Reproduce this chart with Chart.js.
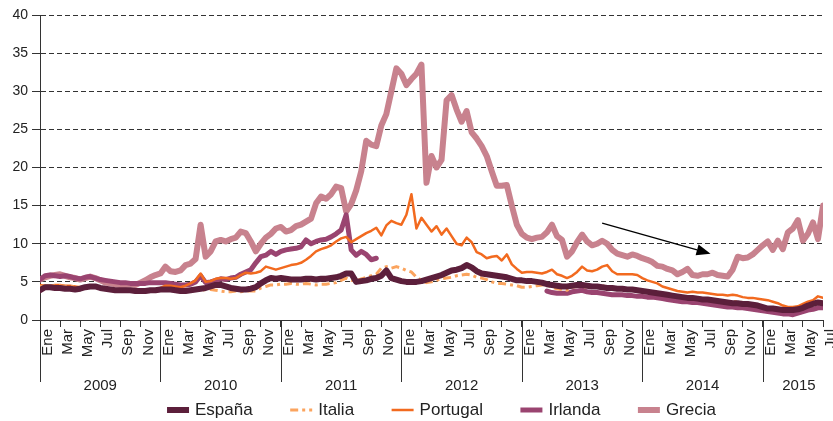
<!DOCTYPE html>
<html>
<head>
<meta charset="utf-8">
<script src="https://cdn.jsdelivr.net/npm/chart.js@4/dist/chart.umd.min.js"></script>
<style>
  html, body { margin: 0; padding: 0; background: #ffffff; }
  #wrap { width: 833px; height: 421px; position: relative; }
</style>
</head>
<body>
<div id="wrap"><canvas id="c" width="833" height="421"></canvas></div>
<script>
// ---- Data (x = months since January 2009, half-month steps) ----
const monthNames = ['Ene', 'Mar', 'May', 'Jul', 'Sep', 'Nov'];
const years = ['2009', '2010', '2011', '2012', '2013', '2014', '2015'];
const yearStarts = [0, 12, 24, 36, 48, 60, 72];
const yearLabelPos = [6, 18, 30, 42, 54, 66, 75.6];
const xMonths = Array.from({ length: 157 }, (_, i) => i / 2);

const espana = [
  3.9, 4.3, 4.3, 4.2, 4.2, 4.1, 4.1, 4.0, 4.1, 4.3, 4.4, 4.4, 4.2, 4.1, 4.0, 3.9, 3.9, 3.9, 3.9, 3.8, 3.8, 3.8, 3.9, 3.9,
  4.0, 4.0, 4.0, 3.9, 3.8, 3.8, 3.9, 4.0, 4.1, 4.2, 4.4, 4.6, 4.6, 4.4, 4.2, 4.1, 4.0, 4.0, 4.1, 4.3, 4.8, 5.2, 5.5, 5.4,
  5.5, 5.4, 5.3, 5.3, 5.3, 5.4, 5.4, 5.3, 5.4, 5.4, 5.5, 5.6, 5.8, 6.1, 6.1, 5.0, 5.1, 5.2, 5.4, 5.5, 5.8, 6.5, 5.5, 5.3,
  5.1, 5.0, 5.0, 5.0, 5.1, 5.3, 5.5, 5.7, 5.9, 6.2, 6.5, 6.6, 6.8, 7.2, 6.9, 6.4, 6.1, 6.0, 5.9, 5.8, 5.7, 5.6, 5.4, 5.2,
  5.2, 5.1, 5.1, 5.0, 4.9, 4.7, 4.6, 4.5, 4.4, 4.4, 4.5, 4.6, 4.6, 4.5, 4.4, 4.4, 4.3, 4.2, 4.2, 4.1, 4.1, 4.0, 4.0, 3.9,
  3.8, 3.7, 3.6, 3.5, 3.4, 3.3, 3.2, 3.1, 3.0, 2.9, 2.9, 2.8, 2.7, 2.7, 2.6, 2.5, 2.4, 2.3, 2.2, 2.2, 2.1, 2.1, 2.0, 1.9,
  1.7, 1.5, 1.5, 1.4, 1.3, 1.3, 1.3, 1.4, 1.6, 1.9, 2.1, 2.3, 2.2
];
const italia = [
  4.4, 4.5, 4.5, 4.5, 4.5, 4.4, 4.4, 4.3, 4.3, 4.3, 4.4, 4.5, 4.3, 4.2, 4.1, 4.0, 4.0, 4.0, 3.9, 3.9, 3.9, 3.9, 4.0, 4.0,
  4.0, 4.1, 4.0, 3.9, 3.8, 3.9, 3.9, 4.0, 3.9, 4.0, 4.0, 3.9, 3.8, 3.7, 3.7, 3.8, 3.7, 3.8, 3.8, 3.8, 4.2, 4.4, 4.6, 4.6,
  4.7, 4.7, 4.8, 4.7, 4.7, 4.8, 4.7, 4.6, 4.7, 4.7, 4.8, 4.9, 5.2, 5.5, 5.2, 5.1, 5.4, 5.6, 5.8, 6.0, 6.8, 7.0, 6.8, 7.0,
  6.8, 6.5, 6.3, 5.6, 5.2, 4.9, 5.0, 5.2, 5.4, 5.5, 5.6, 5.8, 5.9, 6.0, 5.9, 5.6, 5.5, 5.3, 5.0, 4.8, 4.8, 4.7, 4.6, 4.5,
  4.3, 4.3, 4.4, 4.5, 4.6, 4.6, 4.3, 4.1, 4.0, 3.9, 4.3, 4.4, 4.4, 4.3, 4.3, 4.3, 4.5, 4.3, 4.2, 4.1, 4.1, 4.0, 4.0, 4.0,
  3.8, 3.7, 3.6, 3.5, 3.4, 3.2, 3.1, 3.1, 3.0, 2.9, 2.8, 2.8, 2.7, 2.6, 2.5, 2.4, 2.3, 2.3, 2.4, 2.4, 2.3, 2.2, 2.0, 1.9,
  1.7, 1.6, 1.5, 1.4, 1.3, 1.2, 1.3, 1.4, 1.6, 1.8, 2.0, 2.2, 2.4
];
const portugal = [
  4.6, 4.5, 4.5, 4.6, 4.6, 4.5, 4.5, 4.4, 4.3, 4.3, 4.4, 4.4, 4.3, 4.2, 4.1, 4.0, 4.0, 3.9, 3.9, 3.9, 3.9, 3.9, 4.0, 4.0,
  4.2, 4.5, 4.5, 4.4, 4.3, 4.5, 4.8, 5.2, 6.1, 5.0, 5.1, 5.4, 5.5, 5.5, 5.4, 5.5, 5.9, 6.2, 6.1, 6.2, 6.4, 7.0, 6.8, 6.6,
  6.8, 7.0, 7.2, 7.3, 7.5, 7.9, 8.4, 9.0, 9.3, 9.5, 9.8, 10.3, 10.7, 10.9, 10.2, 10.6, 11.0, 11.4, 11.7, 12.1, 11.1, 12.4, 13.0, 12.7,
  12.5, 13.8, 16.5, 12.0, 13.4, 12.5, 11.6, 12.3, 11.2, 12.0, 11.0, 10.0, 9.8, 10.8, 10.2, 8.9, 8.6, 8.1, 8.3, 8.4, 7.8, 8.6, 7.3, 6.7,
  6.2, 6.3, 6.3, 6.2, 6.1, 6.3, 6.6, 6.0, 5.8, 5.5, 5.8, 6.3, 7.0, 6.5, 6.4, 6.6, 7.0, 7.2, 6.4, 6.0, 6.0, 6.0, 6.0, 5.9,
  5.5, 5.2, 5.0, 4.8, 4.4, 4.2, 4.0, 3.8, 3.7, 3.6, 3.7, 3.6, 3.6, 3.5, 3.4, 3.3, 3.3, 3.2, 3.3, 3.2, 3.0, 2.9, 2.9, 2.8,
  2.7, 2.6, 2.4, 2.2, 1.9, 1.7, 1.7, 1.8, 2.1, 2.4, 2.6, 3.1, 2.9
];
const irlanda = [
  5.3, 5.8, 5.9, 5.8, 5.7, 5.8, 5.7, 5.5, 5.4, 5.6, 5.7, 5.5, 5.3, 5.2, 5.1, 5.0, 4.9, 4.9, 4.8, 4.8, 4.8, 4.8, 4.9, 4.9,
  4.9, 4.9, 4.8, 4.7, 4.6, 4.6, 4.7, 5.0, 5.8, 4.9, 5.0, 5.2, 5.4, 5.3, 5.5, 5.6, 6.0, 6.3, 6.6, 7.5, 8.3, 8.5, 9.0, 8.6,
  9.0, 9.2, 9.3, 9.4, 9.6, 10.5, 10.0, 10.3, 10.5, 10.6, 10.9, 11.3, 11.8, 13.8, 9.2, 8.5, 9.0, 8.6, 7.9, 8.1, null, null, null, null,
  null, null, null, null, null, null, null, null, null, null, null, null, null, null, null, null, null, null, null, null, null, null, null, null,
  null, null, null, null, null, 3.8, 3.6, 3.5, 3.5, 3.5, 3.7, 3.8, 3.9, 3.7, 3.6, 3.6, 3.5, 3.4, 3.3, 3.3, 3.3, 3.2, 3.2, 3.1,
  3.1, 3.0, 3.0, 2.9, 2.8, 2.7, 2.6, 2.5, 2.4, 2.4, 2.3, 2.3, 2.2, 2.1, 2.0, 1.9, 1.8, 1.7, 1.7, 1.6, 1.6, 1.5, 1.4, 1.3,
  1.2, 1.1, 1.0, 0.9, 0.8, 0.8, 0.7, 0.9, 1.1, 1.3, 1.4, 1.6, 1.6
];
const grecia = [
  5.3, 5.6, 5.8, 5.9, 6.0, 5.8, 5.6, 5.5, 5.3, 5.5, 5.7, 5.5, 5.2, 4.9, 4.8, 4.7, 4.6, 4.6, 4.7, 4.6, 4.9, 5.2, 5.6, 5.9,
  6.1, 7.0, 6.4, 6.3, 6.5, 7.2, 7.4, 8.0, 12.5, 8.3, 9.0, 10.3, 10.5, 10.3, 10.6, 10.8, 11.6, 11.4, 10.3, 9.0, 10.0, 10.8, 11.3, 12.0,
  12.2, 11.6, 11.8, 12.3, 12.5, 12.9, 13.3, 15.3, 16.2, 15.9, 16.5, 17.5, 17.3, 14.2, 15.2, 17.0, 19.5, 23.5, 23.0, 22.8, 25.5, 27.0, 30.0, 33.0,
  32.3, 30.8, 31.6, 32.3, 33.5, 18.0, 21.5, 20.0, 21.0, 28.8, 29.5, 27.6, 26.0, 27.4, 24.6, 23.8, 22.8, 21.5, 19.5, 17.6, 17.6, 17.7, 15.0, 12.5,
  11.3, 10.8, 10.6, 10.8, 10.9, 11.5, 12.5, 11.0, 10.5, 8.3, 9.0, 10.2, 11.2, 10.3, 9.8, 10.0, 10.4, 10.0, 9.2, 8.7, 8.5, 8.3, 8.6, 8.4,
  8.1, 7.9, 7.6, 7.1, 7.0, 6.7, 6.5, 6.0, 6.3, 6.7, 5.9, 5.8, 6.0, 6.0, 6.2, 5.9, 5.8, 5.7, 6.6, 8.3, 8.1, 8.2, 8.6, 9.2,
  9.8, 10.3, 9.2, 10.4, 9.3, 11.5, 12.0, 13.1, 10.4, 11.3, 12.8, 10.6, 15.0
];

// Arrow annotation (data units: month, value)
const arrowFrom = { x: 56.0, y: 12.7 };
const arrowTo = { x: 66.8, y: 8.7 };

const FONT = "'Liberation Sans', Arial, sans-serif";
const TEXT = '#222222';
const AXIS = '#333333';

const yearSeparators = {
  id: 'yearSeparators',
  afterDraw(chart) {
    const { ctx } = chart;
    const xs = chart.scales.x, ys = chart.scales.yr;
    ctx.save();
    ctx.strokeStyle = AXIS;
    ctx.lineWidth = 1;
    yearStarts.forEach(v => {
      const px = Math.round(xs.getPixelForValue(v)) + 0.5;
      ctx.beginPath();
      ctx.moveTo(px, xs.top);
      ctx.lineTo(px, ys.top + 22);
      ctx.stroke();
    });
    ctx.restore();
  }
};

const arrowPlugin = {
  id: 'arrowPlugin',
  afterDatasetsDraw(chart) {
    const { ctx } = chart;
    const xs = chart.scales.x, ys = chart.scales.y;
    const x1 = xs.getPixelForValue(arrowFrom.x), y1 = ys.getPixelForValue(arrowFrom.y);
    const x2 = xs.getPixelForValue(arrowTo.x), y2 = ys.getPixelForValue(arrowTo.y);
    const ang = Math.atan2(y2 - y1, x2 - x1);
    const L = 14, W = 5.5;
    const bx = x2 - L * Math.cos(ang), by = y2 - L * Math.sin(ang);
    ctx.save();
    ctx.strokeStyle = '#000';
    ctx.fillStyle = '#000';
    ctx.lineWidth = 1.3;
    ctx.beginPath();
    ctx.moveTo(x1, y1);
    ctx.lineTo(bx, by);
    ctx.stroke();
    ctx.beginPath();
    ctx.moveTo(x2, y2);
    ctx.lineTo(bx + W * Math.sin(ang), by - W * Math.cos(ang));
    ctx.lineTo(bx - W * Math.sin(ang), by + W * Math.cos(ang));
    ctx.closePath();
    ctx.fill();
    ctx.restore();
  }
};

const bottomLegend = {
  id: 'bottomLegend',
  afterDraw(chart) {
    const { ctx } = chart;
    const sets = chart.data.datasets;
    const symW = 22, gapText = 6, gapItem = 37.5, cy = 410;
    ctx.save();
    ctx.font = '17px ' + FONT;
    const widths = sets.map(d => symW + gapText + ctx.measureText(d.label).width);
    const total = widths.reduce((a, b) => a + b, 0) + gapItem * (sets.length - 1);
    const centerX = (chart.chartArea.left + chart.chartArea.right) / 2 + 10;
    let x = centerX - total / 2;
    sets.forEach((d, i) => {
      ctx.beginPath();
      ctx.strokeStyle = d.borderColor;
      ctx.lineWidth = d.borderWidth;
      ctx.lineCap = 'butt';
      ctx.setLineDash(d.borderDash || []);
      ctx.moveTo(x, cy);
      ctx.lineTo(x + symW, cy);
      ctx.stroke();
      ctx.setLineDash([]);
      ctx.fillStyle = TEXT;
      ctx.textBaseline = 'middle';
      ctx.textAlign = 'left';
      ctx.fillText(d.label, x + symW + gapText, cy);
      x += widths[i] + gapItem;
    });
    ctx.restore();
  }
};

const lineDefaults = { pointRadius: 0, pointHoverRadius: 0, tension: 0, fill: false, spanGaps: false, borderJoinStyle: 'round', borderCapStyle: 'round' };

new Chart(document.getElementById('c'), {
  type: 'line',
  data: {
    labels: xMonths,
    datasets: [
      Object.assign({ label: 'España', data: espana, borderColor: '#5c1f3b', backgroundColor: '#5c1f3b', borderWidth: 6 }, lineDefaults),
      Object.assign({ label: 'Italia', data: italia, borderColor: '#fba45e', backgroundColor: '#fba45e', borderWidth: 3, borderDash: [8, 4, 3, 4] }, lineDefaults, { borderCapStyle: 'butt' }),
      Object.assign({ label: 'Portugal', data: portugal, borderColor: '#f26a1f', backgroundColor: '#f26a1f', borderWidth: 2.5 }, lineDefaults),
      Object.assign({ label: 'Irlanda', data: irlanda, borderColor: '#9a4470', backgroundColor: '#9a4470', borderWidth: 5 }, lineDefaults),
      Object.assign({ label: 'Grecia', data: grecia, borderColor: '#c8828e', backgroundColor: '#c8828e', borderWidth: 6 }, lineDefaults)
    ]
  },
  options: {
    responsive: false,
    animation: false,
    devicePixelRatio: 1,
    layout: { padding: { top: 15, right: 10, bottom: 31, left: 0 } },
    plugins: { legend: { display: false }, tooltip: { enabled: false } },
    scales: {
      x: {
        type: 'linear', position: 'bottom', min: 0, max: 78,
        border: { display: true, color: AXIS, width: 1 },
        grid: { drawOnChartArea: false, drawTicks: true, tickLength: 7, color: AXIS, tickColor: AXIS },
        ticks: {
          stepSize: 2, autoSkip: false, minRotation: 90, maxRotation: 90, labelOffset: 8, padding: 2,
          color: TEXT, font: { size: 15, family: FONT },
          callback: v => monthNames[Math.round(v % 12) / 2]
        },
        afterFit: s => { s.height = 40; s.paddingLeft = 0; s.paddingRight = 0; }
      },
      yr: {
        type: 'linear', axis: 'x', position: 'bottom', min: 0, max: 78,
        border: { display: false },
        grid: { display: false },
        ticks: {
          autoSkip: false, maxRotation: 0, minRotation: 0, padding: 9,
          color: TEXT, font: { size: 15, family: FONT },
          callback: v => years[yearLabelPos.indexOf(v)]
        },
        afterBuildTicks: s => { s.ticks = yearLabelPos.map(v => ({ value: v })); },
        afterFit: s => { s.height = 30; s.paddingLeft = 0; s.paddingRight = 0; }
      },
      y: {
        min: 0, max: 40,
        border: { display: true, color: AXIS, width: 1, dash: [5, 3] },
        grid: {
          color: c => (c.tick && c.tick.value === 0) ? 'rgba(0,0,0,0)' : AXIS,
          lineWidth: 1, tickLength: 8, tickColor: AXIS, tickBorderDash: []
        },
        ticks: { stepSize: 5, padding: 4, color: TEXT, font: { size: 14, family: FONT } },
        afterFit: s => { s.width = 40; s.paddingTop = 0; s.paddingBottom = 0; }
      }
    }
  },
  plugins: [yearSeparators, arrowPlugin, bottomLegend]
});
</script>
</body>
</html>
